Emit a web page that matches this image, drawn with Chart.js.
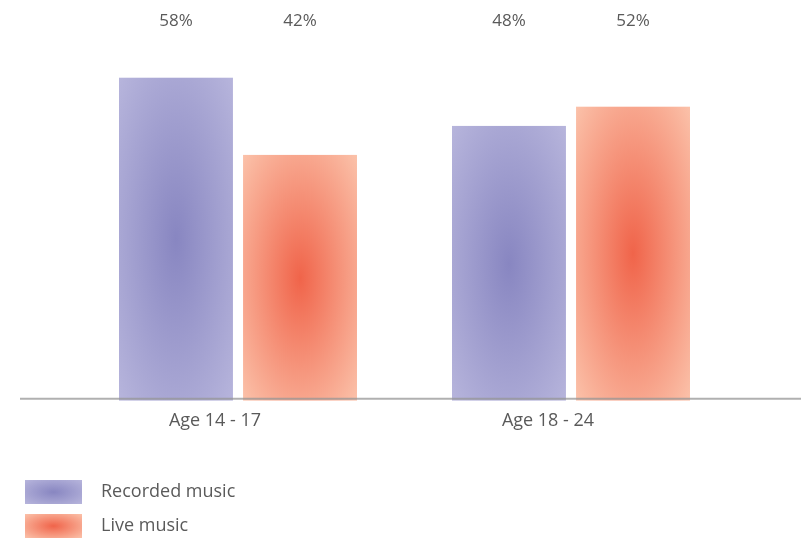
<!DOCTYPE html>
<html>
<head>
<meta charset="utf-8">
<script src="https://cdn.jsdelivr.net/npm/chart.js@4"></script>
<style>
  html, body { margin: 0; padding: 0; background: #ffffff; }
  #wrap { width: 804px; height: 539px; position: relative; }
</style>
</head>
<body>
<div id="wrap"><canvas id="c" width="804" height="539"></canvas></div>
<script>
const categories = ['Age 14 - 17', 'Age 18 - 24'];
const seriesNames = ['Recorded music', 'Live music'];
const recorded = [58, 48];
const live = [42, 52];
const valueLabels = [['58%', '48%'], ['42%', '52%']];

const palette = [
  { inner: '#8886c1', outer: '#b7b5dc' },
  { inner: '#f0644a', outer: '#fbc2aa' }
];
const textColor = '#5a5a5a';
const fontFamily = '"Open Sans", Roboto, sans-serif';

function gradientCanvas(w, h, inner, outer) {
  const c = document.createElement('canvas');
  c.width = Math.max(1, Math.ceil(w));
  c.height = Math.max(1, Math.ceil(h));
  const g = c.getContext('2d');
  g.save();
  g.translate(c.width / 2, c.height / 2);
  g.scale(c.width / 2, c.height / 2);
  const rg = g.createRadialGradient(0, 0, 0, 0, 0, Math.SQRT2);
  rg.addColorStop(0, inner);
  rg.addColorStop(1, outer);
  g.fillStyle = rg;
  g.fillRect(-1, -1, 2, 2);
  g.restore();
  return c;
}

const gradientBars = {
  id: 'gradientBars',
  beforeDatasetsDraw(chart) {
    const ctx = chart.ctx;
    chart.data.datasets.forEach((ds, di) => {
      const meta = chart.getDatasetMeta(di);
      meta.data.forEach((el) => {
        const p = el.getProps(['x', 'y', 'base', 'width'], true);
        const left = p.x - p.width / 2;
        const top = Math.min(p.y, p.base);
        const h = Math.abs(p.base - p.y);
        const img = gradientCanvas(p.width, h, palette[di].inner, palette[di].outer);
        const pat = ctx.createPattern(img, 'no-repeat');
        pat.setTransform(new DOMMatrix().translate(left, top));
        el.options = Object.assign({}, el.options, { backgroundColor: pat });
      });
    });
  },
  afterDatasetsDraw(chart) {
    const ctx = chart.ctx;
    const yBase = chart.scales.y.getPixelForValue(chart.scales.y.min);
    // baseline
    ctx.save();
    ctx.strokeStyle = 'rgba(150,150,150,0.75)';
    ctx.lineWidth = 2;
    ctx.beginPath();
    ctx.moveTo(20, yBase - 2);
    ctx.lineTo(801, yBase - 2);
    ctx.stroke();
    // value labels at top
    ctx.fillStyle = textColor;
    ctx.font = '17px ' + fontFamily;
    ctx.textAlign = 'center';
    ctx.textBaseline = 'middle';
    chart.data.datasets.forEach((ds, di) => {
      const meta = chart.getDatasetMeta(di);
      meta.data.forEach((el, i) => {
        ctx.fillText(valueLabels[di][i], el.x, 21);
      });
    });
    // legend
    ctx.font = '18px ' + fontFamily;
    const legendY = [492, 526];
    chart.data.datasets.forEach((ds, di) => {
      const img = gradientCanvas(57, 24, palette[di].inner, palette[di].outer);
      ctx.drawImage(img, 25, legendY[di] - 12);
      ctx.textAlign = 'left';
      ctx.fillStyle = textColor;
      ctx.fillText(seriesNames[di], 101, legendY[di]);
    });
    ctx.restore();
  }
};

new Chart(document.getElementById('c'), {
  type: 'bar',
  data: {
    labels: categories,
    datasets: [
      { label: seriesNames[0], data: recorded, base: -9 },
      { label: seriesNames[1], data: live, base: -9 }
    ]
  },
  options: {
    responsive: false,
    animation: false,
    events: [],
    layout: { padding: { left: 71.5, right: 66.5, top: 34, bottom: 98.6 } },
    datasets: { bar: { categoryPercentage: 0.745, barPercentage: 0.919, borderWidth: 0 } },
    plugins: { legend: { display: false }, tooltip: { enabled: false } },
    scales: {
      x: {
        grid: { display: false, drawTicks: false },
        border: { display: false },
        ticks: { color: textColor, font: { size: 18, family: fontFamily }, padding: 9, labelOffset: -23 }
      },
      y: {
        display: false,
        min: -9,
        max: 67
      }
    }
  },
  plugins: [gradientBars]
});
</script>
</body>
</html>
